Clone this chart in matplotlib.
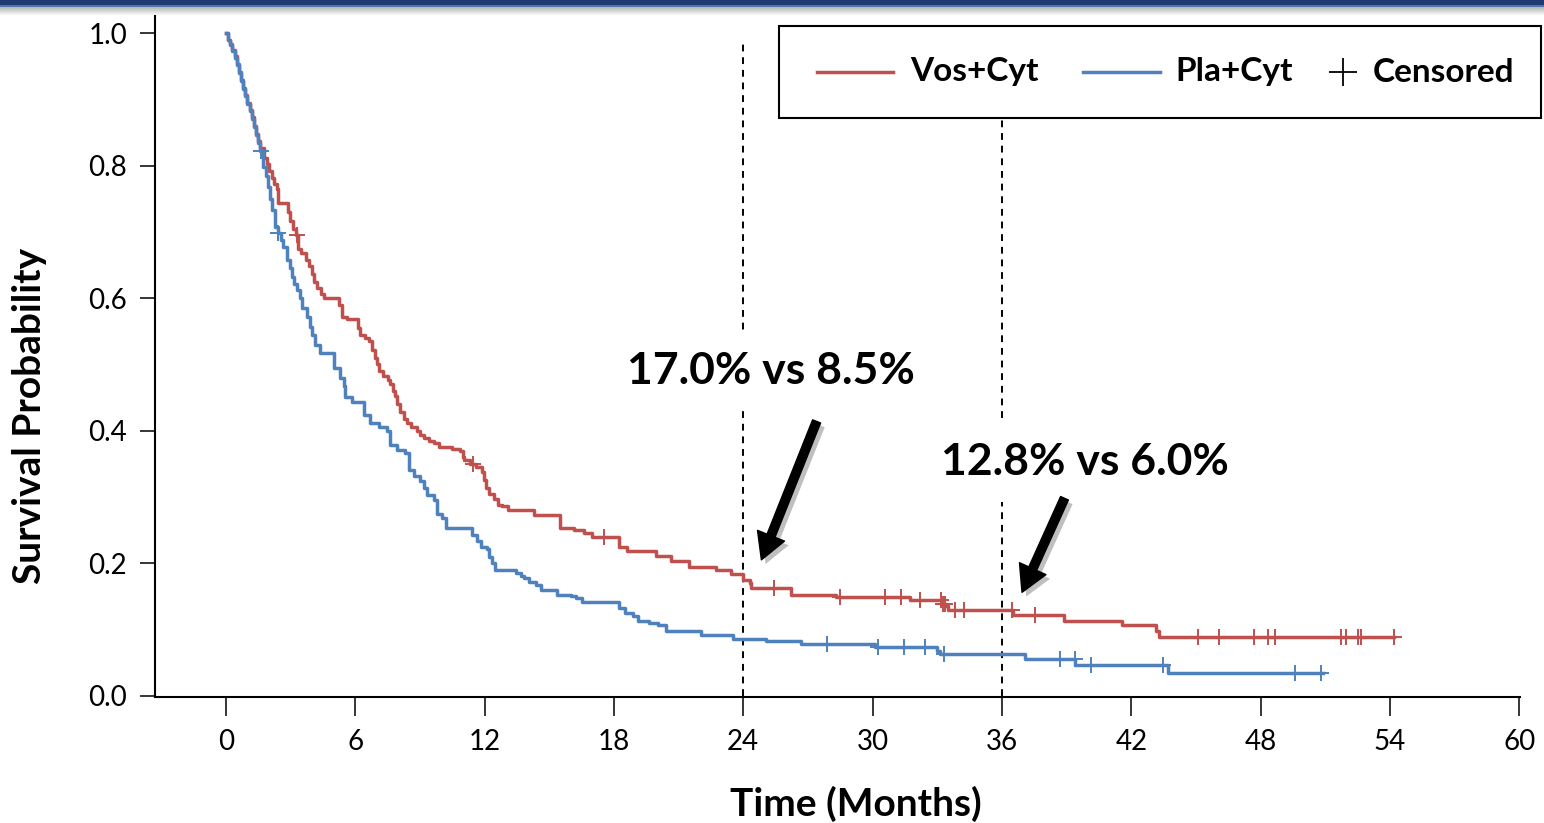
import numpy as np
import matplotlib.pyplot as plt
from matplotlib.lines import Line2D
from matplotlib.patches import Rectangle
import matplotlib.patheffects as pe

plt.rcParams['font.family'] = ['Lato', 'DejaVu Sans']

# Vos+Cyt: step times (months) and survival after each step
vos_t = [0, 0.1, 0.2, 0.3, 0.4, 0.5, 0.6, 0.7, 0.8, 0.9, 1.0, 1.1, 1.2, 1.3, 1.4, 1.5, 1.6,
         1.75, 1.9, 2.0, 2.12, 2.25, 2.36, 2.43, 2.87, 2.95, 3.1, 3.25, 3.36, 3.5, 3.7, 3.85,
         3.98, 4.1, 4.22, 4.4, 4.55, 5.25, 5.38, 5.6, 6.15, 6.23, 6.45, 6.65, 6.77, 6.9, 7.0,
         7.09, 7.3, 7.5, 7.63, 7.75, 7.86, 7.95, 8.09, 8.25, 8.4, 8.6, 8.87, 9.0, 9.18, 9.4,
         9.64, 9.87, 10.5, 10.88, 11.0, 11.04, 11.3, 11.6, 11.89, 11.95, 12.05, 12.2, 12.43,
         12.6, 12.82, 13.1, 14.3, 15.5, 16.15, 16.6, 17.0, 18.23, 18.62, 19.95, 20.65, 21.5,
         22.74, 23.44, 23.99, 24.29, 24.37, 26.23, 28.3, 31.74, 33.2, 33.4, 33.5, 36.5, 38.87,
         41.58, 43.13, 43.29]
vos_s = [1.0, 0.99, 0.983, 0.975, 0.965, 0.954, 0.942, 0.93, 0.918, 0.906, 0.895, 0.884, 0.873,
         0.86, 0.848, 0.837, 0.826, 0.812, 0.802, 0.792, 0.781, 0.772, 0.765, 0.743, 0.73, 0.716,
         0.705, 0.695, 0.675, 0.668, 0.658, 0.648, 0.636, 0.625, 0.615, 0.606, 0.6, 0.59, 0.572,
         0.568, 0.555, 0.545, 0.54, 0.535, 0.522, 0.51, 0.5, 0.49, 0.482, 0.476, 0.47, 0.46,
         0.452, 0.44, 0.428, 0.418, 0.411, 0.405, 0.4, 0.394, 0.389, 0.384, 0.381, 0.376, 0.372,
         0.369, 0.36, 0.356, 0.35, 0.345, 0.338, 0.325, 0.313, 0.305, 0.297, 0.288, 0.286, 0.281,
         0.273, 0.253, 0.25, 0.245, 0.24, 0.225, 0.218, 0.211, 0.204, 0.194, 0.19, 0.183, 0.175,
         0.17, 0.162, 0.152, 0.149, 0.145, 0.139, 0.135, 0.13, 0.122, 0.113, 0.106, 0.098, 0.089]
vos_end = 54.2
vos_cens = [3.29, 11.46, 17.55, 25.42, 28.5, 30.57, 31.3, 32.2, 33.15, 33.25, 33.35, 33.82,
            34.24, 36.47, 37.55, 45.1, 46.08, 47.67, 48.33, 48.68, 51.74, 51.94, 52.5, 52.67, 54.2]

# Pla+Cyt
pla_t = [0, 0.1, 0.2, 0.3, 0.4, 0.5, 0.6, 0.7, 0.8, 0.9, 1.0, 1.1, 1.2, 1.3, 1.4, 1.5, 1.6,
         1.74, 1.85, 1.97, 2.05, 2.12, 2.28, 2.4, 2.55, 2.67, 2.82, 2.95, 3.05, 3.18, 3.29, 3.45,
         3.55, 3.75, 3.91, 4.0, 4.14, 4.37, 5.0, 5.3, 5.46, 5.53, 5.85, 6.39, 6.7, 7.09, 7.47,
         7.63, 7.94, 8.33, 8.48, 8.72, 9.02, 9.2, 9.33, 9.64, 9.8, 10.03, 10.19, 11.42, 11.66,
         11.81, 12.12, 12.2, 12.35, 12.5, 13.44, 13.7, 13.83, 14.06, 14.37, 14.6, 15.38, 16.0,
         16.25, 16.54, 18.25, 18.49, 18.88, 19.1, 19.64, 20.03, 20.42, 22.05, 23.52, 25.07, 26.7,
         30.1, 33.0, 33.13, 37.08, 39.41, 43.7]
pla_s = [1.0, 0.99, 0.982, 0.973, 0.963, 0.952, 0.94, 0.928, 0.916, 0.905, 0.893, 0.882, 0.87,
         0.858, 0.846, 0.834, 0.822, 0.798, 0.785, 0.768, 0.75, 0.733, 0.708, 0.698, 0.688, 0.678,
         0.658, 0.645, 0.632, 0.622, 0.612, 0.6, 0.585, 0.572, 0.557, 0.545, 0.529, 0.517, 0.494,
         0.479, 0.467, 0.451, 0.444, 0.424, 0.411, 0.406, 0.399, 0.379, 0.371, 0.366, 0.341,
         0.331, 0.324, 0.313, 0.303, 0.296, 0.275, 0.268, 0.253, 0.243, 0.233, 0.225, 0.222, 0.21,
         0.2, 0.19, 0.185, 0.18, 0.177, 0.172, 0.167, 0.16, 0.152, 0.15, 0.147, 0.141, 0.132,
         0.125, 0.12, 0.112, 0.11, 0.106, 0.097, 0.092, 0.086, 0.082, 0.078, 0.074, 0.068, 0.063,
         0.055, 0.047, 0.034]
pla_end = 50.9
pla_cens = [1.63, 2.43, 27.9, 30.23, 31.46, 32.43, 33.33, 38.7, 39.4, 40.15, 43.45, 49.6, 50.8]

landmarks = [24, 36]
landmark_text = ['17.0% vs 8.5%', '12.8% vs 6.0%']

red = '#C0504D'
blue = '#4F81BD'
W, H = 1544, 823


def surv_at(times, surv, t):
    i = np.searchsorted(times, t, side='right') - 1
    return np.array(surv)[i]


def fx(px):
    return px / W


def fy(py):
    return 1 - py / H


fig = plt.figure(figsize=(15.44, 8.23), dpi=100)

# header band
hax = fig.add_axes([0, fy(16), 1, 16 / H])
band = np.ones((16, 1, 3))
band[0:5] = [31 / 255, 58 / 255, 112 / 255]
band[5:7] = [80 / 255, 115 / 255, 170 / 255]
for k, g in enumerate(np.linspace(0.72, 1.0, 9)):
    band[7 + k] = [g, g, g]
hax.imshow(band, aspect='auto', interpolation='nearest')
hax.axis('off')

ax = fig.add_axes([fx(155), fy(697), fx(1520 - 155), (697 - 16) / H])

for t, s, end, cens, c in [(vos_t, vos_s, vos_end, vos_cens, red),
                           (pla_t, pla_s, pla_end, pla_cens, blue)]:
    ax.step(list(t) + [end], list(s) + [s[-1]], where='post', color=c, lw=2.5, zorder=3)
    ax.plot(cens, surv_at(t, s, cens), ls='none', marker='+', ms=12, mew=1.4, color=c, zorder=3)

for x in landmarks:
    ax.vlines(x, 0, 0.99, colors='black', lw=1.4, linestyles=(0, (3.5, 3)), zorder=2)

ax.text(25.3, 0.49, landmark_text[0], fontsize=32, fontweight='bold', ha='center', va='center',
        bbox=dict(facecolor='white', edgecolor='none', pad=14), zorder=4)
ax.text(39.85, 0.352, landmark_text[1], fontsize=32, fontweight='bold', ha='center', va='center',
        bbox=dict(facecolor='white', edgecolor='none', pad=14), zorder=4)

arrow = dict(arrowstyle='simple,tail_width=0.28,head_width=0.95,head_length=0.85',
             mutation_scale=22, color='black', shrinkA=0, shrinkB=0,
             path_effects=[pe.SimplePatchShadow(offset=(3, -3), alpha=0.25), pe.Normal()])
ax.annotate('', xy=(24.84, 0.205), xytext=(27.4, 0.414), arrowprops=arrow, zorder=5)
ax.annotate('', xy=(36.93, 0.156), xytext=(38.9, 0.298), arrowprops=arrow, zorder=5)

ax.set_xlim(-3.29, 60.03)
ax.set_ylim(-0.002, 1.026)
ax.set_xticks(range(0, 61, 6))
ax.set_yticks([0.0, 0.2, 0.4, 0.6, 0.8, 1.0])
ax.set_yticklabels(['0.0', '0.2', '0.4', '0.6', '0.8', '1.0'])
ax.tick_params(axis='x', direction='out', length=14, width=1.1, labelsize=20, pad=9)
ax.tick_params(axis='y', direction='out', length=11, width=1.1, labelsize=20, pad=9)
for side in ['top', 'right']:
    ax.spines[side].set_visible(False)
for side in ['left', 'bottom']:
    ax.spines[side].set_linewidth(1.5)

ax.set_xlabel('Time (Months)', fontsize=28, fontweight='bold')
ax.xaxis.set_label_coords(0.5136, -0.13)
ax.set_ylabel('Survival Probability', fontsize=28, fontweight='bold')
ax.yaxis.set_label_coords(-0.079, 0.413)

# legend box
fig.patches.append(Rectangle((fx(779), fy(118)), fx(1541 - 779), (118 - 26) / H,
                             transform=fig.transFigure, facecolor='white', edgecolor='black',
                             lw=1.5, zorder=10))
ly = fy(72)
fig.add_artist(Line2D([fx(817), fx(893)], [ly, ly], color=red, lw=2.5, zorder=11))
fig.add_artist(Line2D([fx(1083), fx(1160)], [ly, ly], color=blue, lw=2.5, zorder=11))
fig.add_artist(Line2D([fx(1343)], [ly], color='black', marker='+', ms=20, mew=1.3, ls='none', zorder=11))
fig.text(fx(910), ly, 'Vos+Cyt', fontsize=24, fontweight='bold', va='center', zorder=11)
fig.text(fx(1175), ly, 'Pla+Cyt', fontsize=24, fontweight='bold', va='center', zorder=11)
fig.text(fx(1373), ly, 'Censored', fontsize=24, fontweight='bold', va='center', zorder=11)

fig.savefig('out.png', dpi=100)
